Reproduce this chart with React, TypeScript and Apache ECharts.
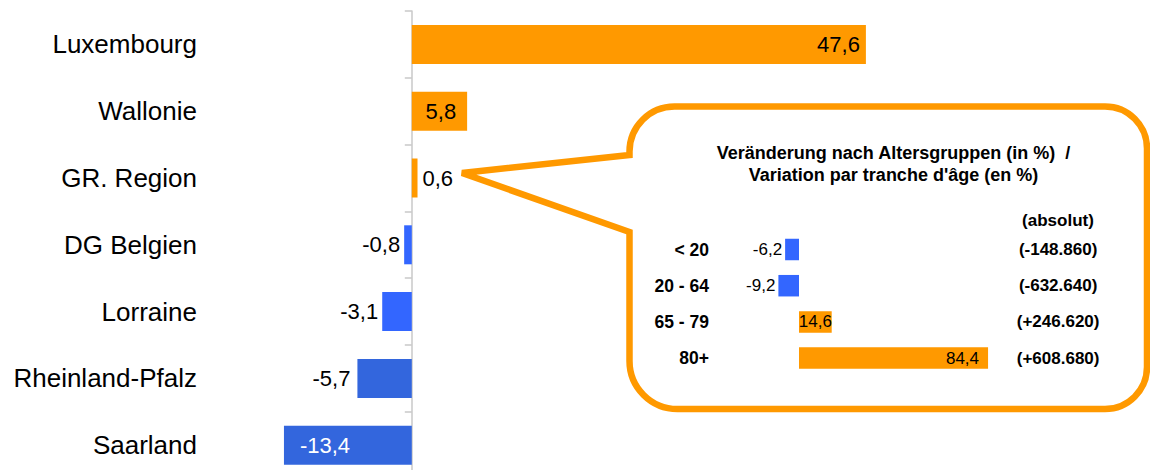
import React, { useEffect, useRef } from 'react';
import * as echarts from 'echarts';

// ---- data ----
const regions = ['Luxembourg', 'Wallonie', 'GR. Region', 'DG Belgien', 'Lorraine', 'Rheinland-Pfalz', 'Saarland'];
const regionChange = [47.6, 5.8, 0.6, -0.8, -3.1, -5.7, -13.4];

const ageGroups = ['< 20', '20 - 64', '65 - 79', '80+'];
const ageChange = [-6.2, -9.2, 14.6, 84.4];
const ageAbsolute = ['(-148.860)', '(-632.640)', '(+246.620)', '(+608.680)'];

const absoluteHeader = '(absolut)';
const insetTitle = "Veränderung nach Altersgruppen (in %)  /\nVariation par tranche d'âge (en %)";

// ---- styles ----
const ORANGE = '#FF9900';
const BLUE = '#3366FF';
const BLUE_DARK = '#3366DD';
const AXIS_GRAY = '#C8C8C8';
const FONT = '"Liberation Sans", Arial, Helvetica, sans-serif';

const regionColors = [ORANGE, ORANGE, ORANGE, BLUE, BLUE, BLUE_DARK, BLUE_DARK];
const regionLabelStyle: any[] = [
  { position: 'insideRight', distance: 6 },
  { position: 'insideRight', distance: 11 },
  { position: 'right', distance: 5 },
  { position: 'left', distance: 4 },
  { position: 'left', distance: 4 },
  { position: 'left', distance: 7 },
  { position: 'insideLeft', distance: 16, color: '#fff' },
];
const ageLabelStyle: any[] = [
  { position: 'left', distance: 3 },
  { position: 'left', distance: 3 },
  { position: 'inside' },
  { position: 'insideRight', distance: 9 },
];

const CALLOUT_D =
  'M629.5 155 L462 173 L629.5 232 L629.5 361 A48 48 0 0 0 677.5 409 L1105 409 A42 42 0 0 0 1147 367 L1147 148.5 A42 42 0 0 0 1105 106.5 L674.5 106.5 A45 45 0 0 0 629.5 151.5 Z';

echarts.graphic.registerShape('callout', echarts.graphic.extendPath(CALLOUT_D, {}));

const fmt = (v: number) => v.toFixed(1).replace('.', ',');

export default function App() {
  const ref = useRef<HTMLDivElement>(null);

  useEffect(() => {
    if (!ref.current) return;
    const chart = echarts.init(ref.current, null, { renderer: 'svg' });

    const option: any = {
      animation: false,
      backgroundColor: '#fff',
      textStyle: { fontFamily: FONT },
      grid: [
        { left: 200, top: 11, width: 688.8, height: 467.6, outerBoundsMode: 'none' },
        { left: 776.6, top: 231.4, width: 224, height: 144.8, outerBoundsMode: 'none' },
      ],
      xAxis: [
        { gridIndex: 0, type: 'value', min: -22.2, max: 50, show: false },
        { gridIndex: 1, type: 'value', min: -10, max: 90, show: false },
      ],
      yAxis: [
        {
          gridIndex: 0,
          type: 'category',
          inverse: true,
          position: 'left',
          data: regions,
          axisLine: { show: false, onZero: false },
          axisTick: { show: false },
          axisLabel: { fontSize: 26, color: '#000', margin: 3, fontFamily: FONT },
        },
        {
          gridIndex: 0,
          type: 'category',
          inverse: true,
          position: 'left',
          data: regions,
          axisLine: { show: true, onZero: true, lineStyle: { color: AXIS_GRAY, width: 1.5 } },
          axisTick: { show: true, length: 7, lineStyle: { color: AXIS_GRAY, width: 1.5 } },
          axisLabel: { show: false },
        },
        {
          gridIndex: 1,
          type: 'category',
          inverse: true,
          position: 'left',
          data: ageGroups,
          axisLine: { show: false, onZero: false },
          axisTick: { show: false },
          axisLabel: { fontSize: 17.5, fontWeight: 'bold', color: '#000', margin: 67.6, fontFamily: FONT },
        },
        {
          gridIndex: 1,
          type: 'category',
          inverse: true,
          position: 'right',
          data: ageGroups,
          axisLine: { show: false, onZero: false },
          axisTick: { show: false },
          axisLabel: {
            fontSize: 17,
            fontWeight: 'bold',
            color: '#000',
            margin: 57.5,
            align: 'center',
            fontFamily: FONT,
            formatter: (_v: string, i: number) => ageAbsolute[i],
          },
        },
      ],
      graphic: [
        {
          type: 'callout',
          x: 0,
          y: 0,
          z: -1,
          style: { fill: '#fff', stroke: ORANGE, lineWidth: 6.5, lineJoin: 'miter' },
        },
        {
          type: 'text',
          x: 893.5,
          y: 142,
          z: 5,
          style: {
            text: insetTitle,
            fill: '#000',
            font: `bold 18px ${FONT}`,
            align: 'center',
            verticalAlign: 'top',
            lineHeight: 22,
          },
        },
        {
          type: 'text',
          x: 1058,
          y: 220,
          z: 5,
          style: {
            text: absoluteHeader,
            fill: '#000',
            font: `bold 17px ${FONT}`,
            align: 'center',
            verticalAlign: 'middle',
          },
        },
      ],
      series: [
        {
          type: 'bar',
          xAxisIndex: 0,
          yAxisIndex: 1,
          barWidth: 39,
          data: regionChange.map((v, i) => ({
            value: v,
            itemStyle: { color: regionColors[i] },
            label: {
              show: true,
              color: '#000',
              fontSize: 22,
              fontFamily: FONT,
              formatter: () => fmt(v),
              ...regionLabelStyle[i],
            },
          })),
        },
        {
          type: 'bar',
          xAxisIndex: 1,
          yAxisIndex: 2,
          barWidth: 21.5,
          data: ageChange.map((v, i) => ({
            value: v,
            itemStyle: { color: v < 0 ? BLUE : ORANGE },
            label: {
              show: true,
              color: '#000',
              fontSize: 17,
              fontFamily: FONT,
              formatter: () => fmt(v),
              ...ageLabelStyle[i],
            },
          })),
        },
      ],
    };

    chart.setOption(option);
    return () => chart.dispose();
  }, []);

  return (
    <div style={{ position: 'fixed', left: 0, top: 0, width: 1150, height: 470, overflow: 'hidden', background: '#fff' }}>
      <div ref={ref} style={{ width: 1150, height: 490 }} />
    </div>
  );
}
